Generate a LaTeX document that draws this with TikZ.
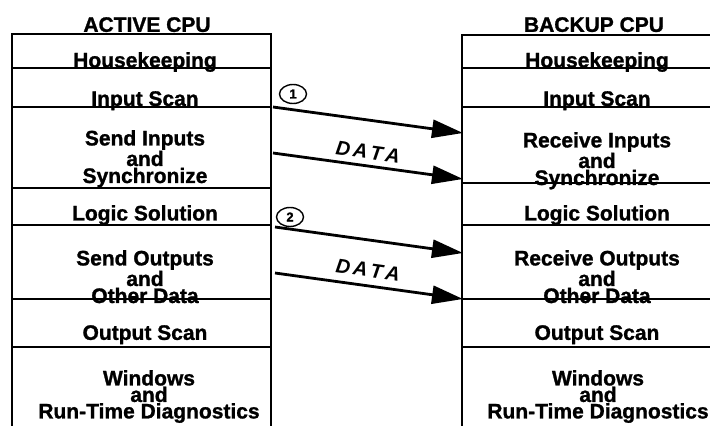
\documentclass[tikz,border=0pt]{standalone}
\usepackage{fontspec}
\setmainfont{Liberation Sans}[BoldFeatures={FakeBold=1.2}]
\usetikzlibrary{arrows.meta,shapes.geometric}
\tikzset{
  sect/.style={anchor=north,inner sep=0pt,align=center,font=\bfseries\fontsize{21}{17}\selectfont},
  rule/.style={line width=2.6pt},
  side/.style={line width=2pt},
  xfer/.style={line width=2.8pt,-{Triangle[length=31pt,width=18pt]}},
  num/.style={draw,ellipse,line width=1.4pt,minimum width=27pt,minimum height=19pt,inner sep=0pt,font=\bfseries\fontsize{13}{13}\selectfont},
  datalbl/.style={inner sep=0pt,rotate=-7.8,font=\bfseries\itshape\fontsize{20}{20}\selectfont}
}
\begin{document}
\begin{tikzpicture}[x=1pt,y=-1pt]
\useasboundingbox (0,0) rectangle (710,426);
% active column
\draw[side] (12,34) -- (12,426);
\draw[side] (271,34) -- (271,426);
\foreach \yy in {34,68,107,188,225,299,347} \draw[rule] (11,\yy) -- (272,\yy);
% backup column
\draw[side] (462,35) -- (462,426);
\foreach \yy in {35,68,107,183,225,299,347} \draw[rule] (461,\yy) -- (710,\yy);
% headers
\node[sect] (hA) at (147,17) {ACTIVE CPU};
\node[sect] (hB) at (594,17) {BACKUP CPU};
% active sections
\node[sect] (a1) at (145,52) {Housekeeping};
\node[sect] (a2) at (145,91) {Input Scan};
\node[sect] (a3) at (145,130) {Send Inputs\\and\\Synchronize};
\node[sect] (a4) at (145,205) {Logic Solution};
\node[sect] (a5) at (145,250) {Send Outputs\\and\\Other Data};
\node[sect] (a6) at (145,325) {Output Scan};
\node[sect,font=\bfseries\fontsize{21}{16.5}\selectfont] (a7) at (149,370) {Windows\\and\\Run-Time Diagnostics};
% backup sections
\node[sect] (b1) at (597,52) {Housekeeping};
\node[sect] (b2) at (597,91) {Input Scan};
\node[sect] (b3) at (597,132) {Receive Inputs\\and\\Synchronize};
\node[sect] (b4) at (597,205) {Logic Solution};
\node[sect] (b5) at (597,250) {Receive Outputs\\and\\Other Data};
\node[sect] (b6) at (597,325) {Output Scan};
\node[sect,font=\bfseries\fontsize{21}{16.5}\selectfont] (b7) at (598,370) {Windows\\and\\Run-Time Diagnostics};
% arrow ends
\coordinate (s1) at (273,107); \coordinate (e1) at (463,133);
\coordinate (s2) at (273,153); \coordinate (e2) at (463,179);
\coordinate (s3) at (275,227); \coordinate (e3) at (463,253);
\coordinate (s4) at (275,273); \coordinate (e4) at (463,299);
\draw[xfer] (s1) -- (e1);
\draw[xfer] (s2) -- (e2);
\draw[xfer] (s3) -- (e3);
\draw[xfer] (s4) -- (e4);
\node[num] (n1) at (293,94) {1};
\node[num] (n2) at (290,217) {2};
\node[datalbl] (d1) at (368,152) {D\kern3pt A\kern3pt T\kern3pt A};
\node[datalbl] (d2) at (368,270) {D\kern3pt A\kern3pt T\kern3pt A};
\end{tikzpicture}
\end{document}
